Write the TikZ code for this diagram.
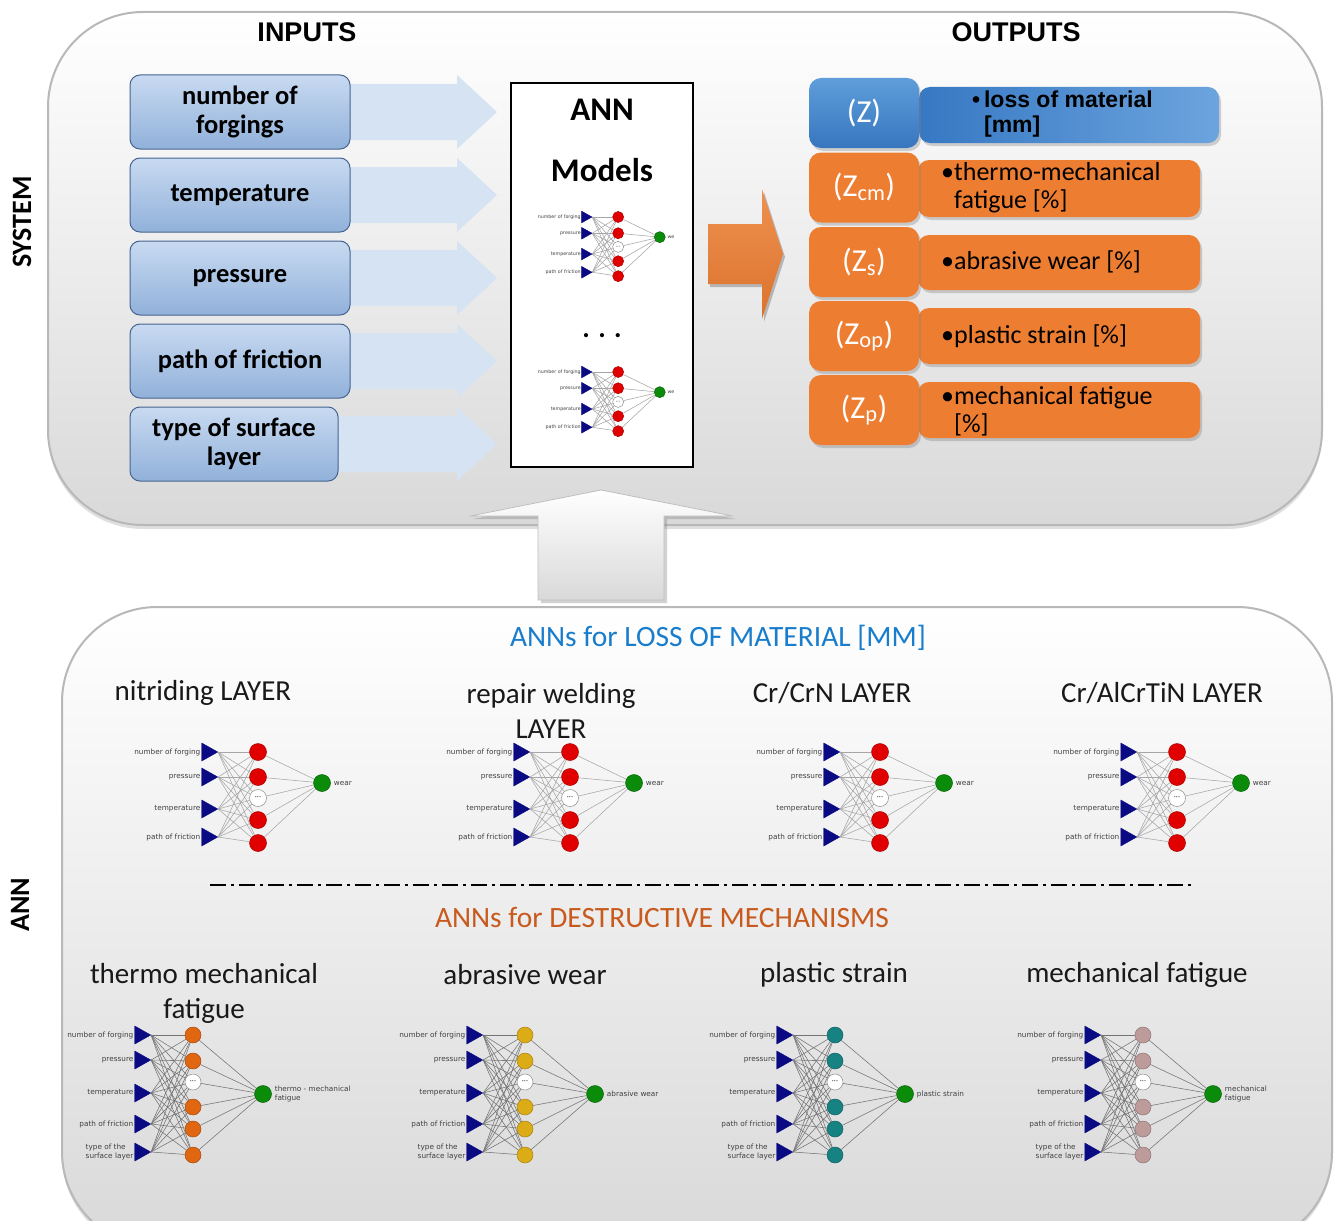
\documentclass[tikz,border=0pt]{standalone}
\usepackage{fontspec}
\setmainfont{Carlito}
\newfontfamily\arialfont{Liberation Sans}
\newfontfamily\dvfont{DejaVu Sans}
\usetikzlibrary{shapes.geometric,shadows}
\definecolor{navy}{RGB}{10,10,130}
\definecolor{nred}{RGB}{225,0,0}
\definecolor{norange}{RGB}{224,102,18}
\definecolor{ngold}{RGB}{220,172,22}
\definecolor{nteal}{RGB}{22,130,130}
\definecolor{nrose}{RGB}{190,155,155}
\definecolor{ngreen}{RGB}{10,140,10}
\definecolor{oorange}{RGB}{237,125,49}
\definecolor{ttblue}{RGB}{25,125,205}
\definecolor{ttorange}{RGB}{200,90,30}
\definecolor{ibtop}{RGB}{200,218,241}
\definecolor{ibbot}{RGB}{145,177,218}
\definecolor{ibdraw}{RGB}{70,100,145}
\definecolor{iarrow}{RGB}{214,227,242}
\newcommand\myfs[2]{\fontsize{#1}{#2}\selectfont}
\tikzset{
 tri/.style={isosceles triangle, isosceles triangle apex angle=60, isosceles triangle stretches, fill=navy, draw=navy, inner sep=0pt, minimum width=18pt, minimum height=16pt},
 nlbl/.style={font=\dvfont\myfs{7.3}{8.3}, text=black!75, inner sep=1pt, align=left},
 hid/.style={circle, fill=#1, draw=#1!75!black, line width=0.5pt, minimum size=17pt, inner sep=0pt},
 dotn/.style={circle, fill=white, draw=black!45, line width=0.5pt, minimum size=17pt, inner sep=0pt, font=\dvfont\myfs{3.5}{4}},
 outn/.style={circle, fill=ngreen, draw=ngreen!70!black, line width=0.5pt, minimum size=17pt, inner sep=0pt},
 conn/.style={draw=black!35, line width=0.55pt},
 connd/.style={draw=black!55, line width=0.55pt},
 panel/.style={draw=black!28, line width=2pt, rounded corners=95pt, top color=white, bottom color=black!15, drop shadow={opacity=0.25, shadow xshift=0pt, shadow yshift=-4pt}},
 ibox/.style={draw=ibdraw, line width=1pt, rounded corners=10pt, top color=ibtop, bottom color=ibbot, font=\bfseries\myfs{26.5}{29}, align=center, minimum width=220pt, minimum height=74pt, inner sep=2pt},
 inarrow/.style={fill=iarrow},
 zsq/.style={rounded corners=12pt, minimum width=110pt, minimum height=70pt, text=white, font=\myfs{32}{34}, drop shadow={opacity=0.35, shadow xshift=2pt, shadow yshift=-3pt}},
 obar/.style={rounded corners=11pt, fill=oorange, minimum width=282pt, drop shadow={opacity=0.35, shadow xshift=2pt, shadow yshift=-3pt}},
 otext/.style={anchor=west, inner sep=0pt, align=left, font=\myfs{26}{28}},
 ttl/.style={font=\myfs{29}{35}, align=center, text=black!90},
}
\newcommand\netfour[6]{%
\begin{scope}[shift={(#2,#3)},scale=#4,transform shape]
\node[tri,label={[nlbl]left:number of forging}] (#1i1) at (0,0) {};
\node[tri,label={[nlbl]left:pressure}] (#1i2) at (0,25) {};
\node[tri,label={[nlbl]left:temperature}] (#1i3) at (0,57) {};
\node[tri,label={[nlbl]left:path of friction}] (#1i4) at (0,85) {};
\node[hid=#5] (#1h1) at (51,0) {};
\node[hid=#5] (#1h2) at (51,25) {};
\node[dotn] (#1h3) at (51,46) {•••};
\node[hid=#5] (#1h4) at (51,68) {};
\node[hid=#5] (#1h5) at (51,91) {};
\node[outn,label={[nlbl,xshift=2pt]right:#6}] (#1o) at (115,31) {};
\foreach \i in {1,2,3,4}{\foreach \j in {1,...,5}{\draw[conn] (#1i\i.apex) -- (#1h\j);}}
\foreach \j in {1,...,5}{\draw[conn] (#1h\j) -- (#1o);}
\end{scope}}
\newcommand\netfive[5]{%
\begin{scope}[shift={(#2,#3)}]
\node[tri,label={[nlbl]left:number of forging}] (#1i1) at (0,0) {};
\node[tri,label={[nlbl]left:pressure}] (#1i2) at (0,25) {};
\node[tri,label={[nlbl]left:temperature}] (#1i3) at (0,58) {};
\node[tri,label={[nlbl]left:path of friction}] (#1i4) at (0,89) {};
\node[tri,label={[nlbl]left:type of the\\surface layer}] (#1i5) at (0,117) {};
\node[hid=#4,minimum size=16pt] (#1h1) at (53,0) {};
\node[hid=#4,minimum size=16pt] (#1h2) at (53,26) {};
\node[dotn,minimum size=16pt] (#1h3) at (53,47) {•••};
\node[hid=#4,minimum size=16pt] (#1h4) at (53,72) {};
\node[hid=#4,minimum size=16pt] (#1h5) at (53,94) {};
\node[hid=#4,minimum size=16pt] (#1h6) at (53,120) {};
\node[outn,label={[nlbl,xshift=2pt]right:#5}] (#1o) at (123,59) {};
\foreach \i in {1,...,5}{\foreach \j in {1,...,6}{\draw[connd] (#1i\i.apex) -- (#1h\j);}}
\foreach \j in {1,...,6}{\draw[connd] (#1h\j) -- (#1o);}
\end{scope}}
\begin{document}
\begin{tikzpicture}[x=1pt,y=-1pt]
\useasboundingbox (0,0) rectangle (1335,1220);
\clip (0,0) rectangle (1335,1220);
\fill[white] (0,0) rectangle (1335,1220);
% panels
\node[panel, minimum width=1274pt, minimum height=513pt] (sys) at (685,268.5) {};
\node[panel, minimum width=1270pt, minimum height=640pt] (annp) at (697,927) {};
% headings
\node[font=\arialfont\bfseries\myfs{27}{30}] (tin) at (307,32) {INPUTS};
\node[font=\arialfont\bfseries\myfs{27}{30}] (tout) at (1016,32) {OUTPUTS};
\node[rotate=90, font=\bfseries\myfs{28}{30}] (tsys) at (22,222) {SYSTEM};
% input arrows
\foreach \c/\s in {112/340,195/340,278/340,361/340,444/330}{
 \fill[inarrow] (\s,\c-28) -- (457,\c-28) -- (457,\c-37) -- (497,\c) -- (457,\c+37) -- (457,\c+28) -- (\s,\c+28) -- cycle;}
% input boxes
\node[ibox] (in1) at (240,112) {number of\\forgings};
\node[ibox] (in2) at (240,195) {temperature};
\node[ibox] (in3) at (240,278) {pressure};
\node[ibox] (in4) at (240,361) {path of friction};
\node[ibox, minimum width=208pt] (in5) at (234,444) {type of surface\\layer};
% ANN models box
\node[draw=black, line width=1.5pt, fill=white, minimum width=182pt, minimum height=384pt] (annbox) at (602,275) {};
\node[font=\bfseries\myfs{33}{34}] (tann) at (602,110) {ANN};
\node[font=\bfseries\myfs{33}{34}] (tmod) at (602,170) {Models};
\netfour{m1}{585}{217}{0.65}{nred}{we}
\node[font=\bfseries\myfs{28}{30}, anchor=base] (mdots) at (602,337) {. . .};
\netfour{m2}{585}{372}{0.65}{nred}{we}
% orange arrow
\path[top color=oorange!85!white, bottom color=oorange!92!black, drop shadow={opacity=0.5, shadow xshift=2pt, shadow yshift=-3pt}]
 (708,224) -- (762,224) -- (762,189) -- (783,254) -- (762,319) -- (762,284) -- (708,284) -- cycle;
% output bars
\node[rounded corners=11pt, minimum width=300pt, minimum height=56pt, left color={rgb,255:red,55;green,120;blue,195}, right color={rgb,255:red,108;green,164;blue,222}, drop shadow={opacity=0.35, shadow xshift=2pt, shadow yshift=-3pt}] (b1) at (1069,115) {};
\node[obar, minimum height=57pt] (b2) at (1059,188.5) {};
\node[obar, minimum height=55pt] (b3) at (1059,262.5) {};
\node[obar, minimum height=56pt] (b4) at (1059,336) {};
\node[obar, minimum height=56pt] (b5) at (1059,410) {};
% output squares
\node[zsq, top color={rgb,255:red,95;green,158;blue,218}, bottom color={rgb,255:red,55;green,118;blue,190}] (z1) at (864,113) {(Z)};
\node[zsq, fill=oorange] (z2) at (864,187.5) {(Z\textsubscript{cm})};
\node[zsq, fill=oorange] (z3) at (864,262) {(Z\textsubscript{s})};
\node[zsq, fill=oorange] (z4) at (864,336) {(Z\textsubscript{op})};
\node[zsq, fill=oorange] (z5) at (864,410) {(Z\textsubscript{p})};
% output texts
\node[anchor=west, inner sep=0pt, align=left, font=\arialfont\bfseries\myfs{23}{25}] (t1) at (972,114) {•\,loss of material\\\hphantom{•\,}[mm]};
\node[otext] (t2) at (941,188) {•thermo-mechanical\\\hphantom{•}fatigue [\%]};
\node[otext] (t3) at (941,262) {•abrasive wear [\%]};
\node[otext] (t4) at (941,336) {•plastic strain [\%]};
\node[otext] (t5) at (941,411) {•mechanical fatigue\\\hphantom{•}[\%]};
% up arrow
\path[draw=black!25, line width=0.8pt, top color=white, bottom color=black!15, drop shadow={opacity=0.35, shadow xshift=3pt, shadow yshift=-3pt}]
 (538,600) -- (538,516) -- (470,516) -- (601,490) -- (733,516) -- (664,516) -- (664,600) -- cycle;
% bottom panel texts
\node[font=\myfs{29.5}{31}, text=ttblue] (tl) at (718,638) {ANNs for LOSS OF MATERIAL [MM]};
\node[rotate=90, font=\bfseries\myfs{28}{30}] (tannv) at (20,905) {ANN};
\node[ttl] (h1) at (203,693) {nitriding LAYER};
\node[ttl] (h2) at (551,710.5) {repair welding\\LAYER};
\node[ttl] (h3) at (832,693) {Cr/CrN LAYER};
\node[ttl] (h4) at (1162,693) {Cr/AlCrTiN LAYER};
\netfour{n1}{207}{752}{1}{nred}{wear}
\netfour{n2}{519}{752}{1}{nred}{wear}
\netfour{n3}{829}{752}{1}{nred}{wear}
\netfour{n4}{1126}{752}{1}{nred}{wear}
\coordinate (dl) at (210,885);
\coordinate (dr) at (1195,885);
\draw[line width=1.3pt, dash pattern=on 16pt off 5pt on 3pt off 5pt] (dl) -- (dr);
\node[font=\myfs{29.5}{31}, text=ttorange] (td) at (662,917) {ANNs for DESTRUCTIVE MECHANISMS};
\node[ttl] (g1) at (204,993) {thermo mechanical\\fatigue};
\node[ttl] (g2) at (525,975) {abrasive wear};
\node[ttl] (g3) at (834,975) {plastic strain};
\node[ttl] (g4) at (1137,975) {mechanical fatigue};
\netfive{a}{140}{1035}{norange}{thermo - mechanical\\fatigue}
\netfive{b}{472}{1035}{ngold}{abrasive wear}
\netfive{c}{782}{1035}{nteal}{plastic strain}
\netfive{d}{1090}{1035}{nrose}{mechanical\\fatigue}
\end{tikzpicture}
\end{document}
